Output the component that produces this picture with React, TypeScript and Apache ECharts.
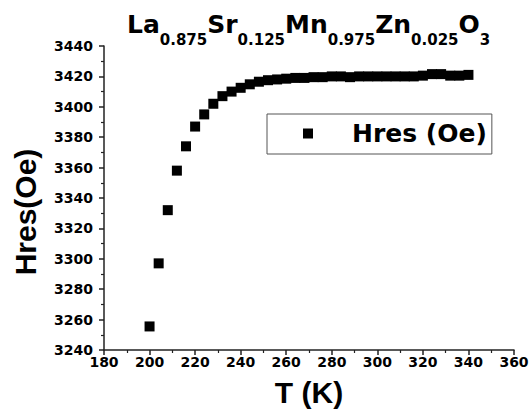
import React, { useEffect, useRef } from "react";
import * as echarts from "echarts";

const temperatures = [
  200, 204, 208, 212, 216, 220, 224, 228, 232, 236, 240, 244, 248, 252, 256, 260, 264, 268,
  272, 276, 280, 284, 288, 292, 296, 300, 304, 308, 312, 316, 320, 324, 328, 332, 336, 340,
];
const hres = [
  3255.5, 3297, 3332, 3358, 3374, 3387, 3395, 3402, 3407, 3410, 3412.5, 3414.8, 3416.5, 3417.5,
  3418, 3418.5, 3419, 3419, 3419.5, 3419.5, 3420, 3420, 3419.5, 3420, 3420, 3420, 3420, 3420,
  3420, 3420, 3420.5, 3421.5, 3421.5, 3420.5, 3420.5, 3421,
];
const seriesName = "Hres (Oe)";
const titleParts = [
  ["m", "La"], ["s", "0.875"], ["m", "Sr"], ["s", "0.125"], ["m", "Mn"], ["s", "0.975"],
  ["m", "Zn"], ["s", "0.025"], ["m", "O"], ["s", "3"],
];
const xAxisTitle = "T (K)";
const yAxisTitle = "Hres(Oe)";

export default function App() {
  const ref = useRef<HTMLDivElement>(null);
  useEffect(() => {
    if (!ref.current) return;
    const chart = echarts.init(ref.current, null, { renderer: "svg" });
    const axisCommon = {
      axisLine: { show: true, lineStyle: { color: "#222", width: 1.5 } },
      axisTick: { show: true, inside: false, length: 5, lineStyle: { color: "#222", width: 1.5 } },
      minorTick: { show: true, splitNumber: 2, length: 3, lineStyle: { color: "#222", width: 1.2 } },
      splitLine: { show: false },
      minorSplitLine: { show: false },
      axisLabel: {
        color: "#000",
        fontFamily: "DejaVu Sans",
        fontWeight: "bold",
        fontSize: 14,
        formatter: (v: number) => String(v),
      },
    };
    chart.setOption({
      animation: false,
      backgroundColor: "#fff",
      title: {
        text: titleParts.map(([k, t]) => `{${k}|${t}}`).join(""),
        left: 127,
        top: 12,
        padding: 0,
        textStyle: {
          rich: {
            m: {
              fontFamily: "DejaVu Sans",
              fontWeight: "bold",
              fontSize: 25,
              lineHeight: 25,
              color: "#000",
              verticalAlign: "top",
            },
            s: {
              fontFamily: "DejaVu Sans",
              fontWeight: "bold",
              fontSize: 15,
              lineHeight: 15,
              color: "#000",
              verticalAlign: "top",
              padding: [20, 0, 0, 0],
            },
          },
        },
      },
      grid: { left: 104, right: 18, top: 46, bottom: 62, containLabel: false },
      xAxis: {
        type: "value",
        min: 180,
        max: 360,
        interval: 20,
        ...axisCommon,
        axisLabel: { ...axisCommon.axisLabel, margin: 5 },
        name: xAxisTitle,
        nameLocation: "middle",
        nameGap: 27,
        nameTextStyle: {
          fontFamily: "Liberation Sans",
          fontWeight: "bold",
          fontSize: 30,
          color: "#000",
        },
      },
      yAxis: {
        type: "value",
        min: 3240,
        max: 3440,
        interval: 20,
        ...axisCommon,
        axisLabel: { ...axisCommon.axisLabel, margin: 11 },
      },
      legend: {
        show: true,
        left: 267,
        top: 114,
        orient: "vertical",
        padding: [7, 5, 8, 36],
        borderColor: "#555",
        borderWidth: 1,
        itemWidth: 10,
        itemHeight: 10,
        data: [{ name: seriesName, icon: "rect" }],
        textStyle: {
          fontFamily: "DejaVu Sans",
          fontWeight: "bold",
          fontSize: 25,
          color: "#000",
          padding: [0, 0, 0, 34],
        },
      },
      graphic: [
        {
          type: "text",
          x: 25,
          y: 212,
          rotation: Math.PI / 2,
          style: {
            text: yAxisTitle,
            fontFamily: "Liberation Sans",
            fontWeight: "bold",
            fontSize: 30,
            fill: "#000",
            align: "center",
            verticalAlign: "middle",
          },
        },
      ],
      series: [
        {
          type: "scatter",
          name: seriesName,
          symbol: "rect",
          symbolSize: 10,
          itemStyle: { color: "#000", opacity: 1 },
          data: temperatures.map((t, i) => [t, hres[i]]),
        },
      ],
    });
    return () => chart.dispose();
  }, []);
  return (
    <div
      ref={ref}
      style={{ position: "absolute", left: 0, top: 0, width: 532, height: 412 }}
    />
  );
}
